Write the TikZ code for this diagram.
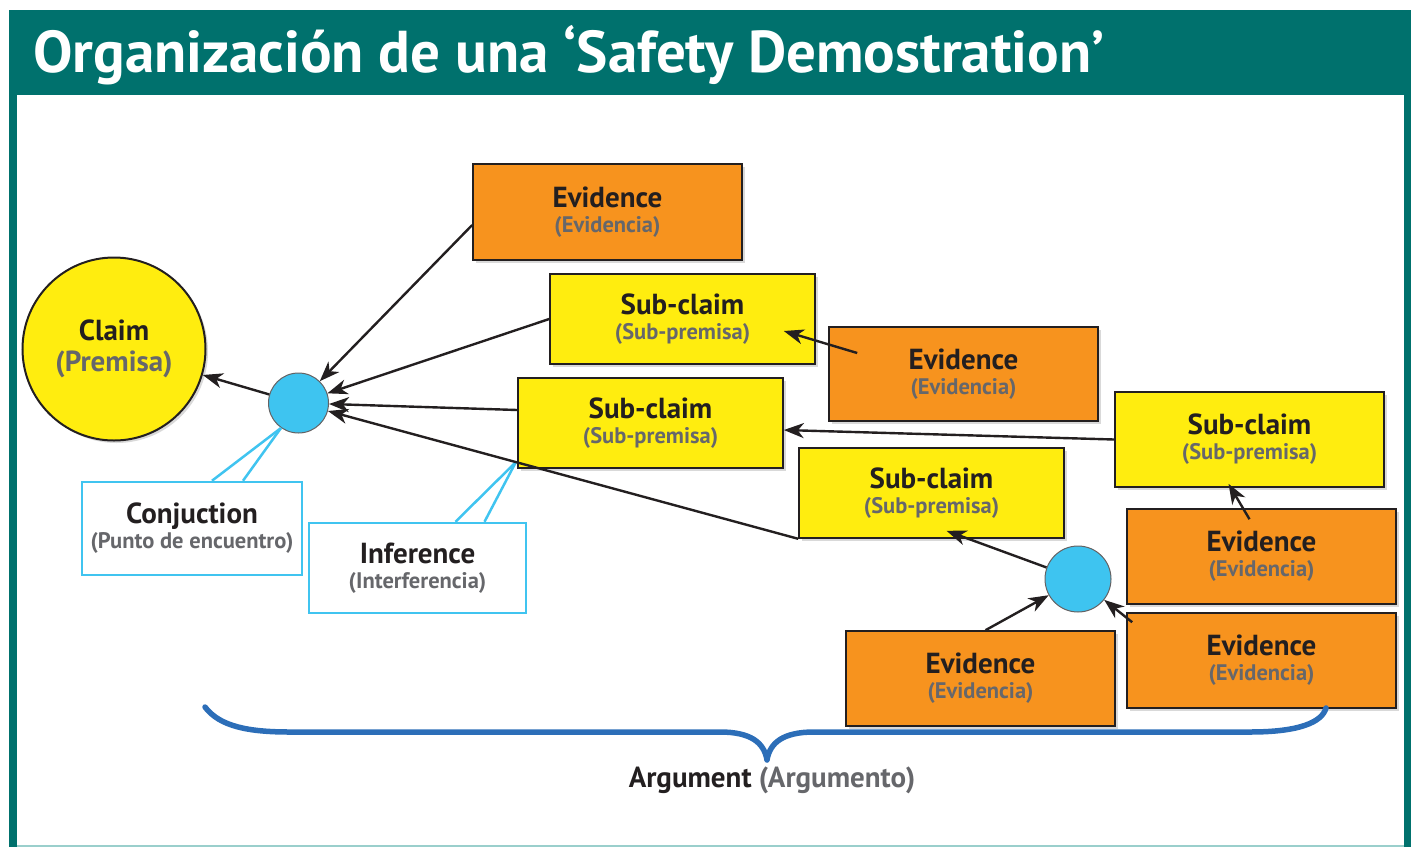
\documentclass[tikz,border=0pt]{standalone}
\usepackage{fontspec}
\setmainfont{PT Sans}
\usetikzlibrary{arrows.meta,shadows,calc}
\definecolor{hdteal}{HTML}{00716D}
\definecolor{hdlight}{HTML}{9ACFCC}
\definecolor{evorange}{HTML}{F7931E}
\definecolor{scyellow}{HTML}{FFED0F}
\definecolor{cjblue}{HTML}{3EC4F0}
\definecolor{calblue}{HTML}{40C4F0}
\definecolor{brblue}{HTML}{2C6EB8}
\definecolor{txdark}{HTML}{231F20}
\definecolor{txgray}{HTML}{66676B}
\newcommand\twolines[2]{{\fontsize{29}{25}\selectfont #1}\\{\color{txgray}#2}}
\begin{document}
\begin{tikzpicture}[x=1pt,y=-1pt,
  every node/.style={font=\fontsize{22.5}{25}\selectfont\bfseries, text=txdark, align=center},
  shd/.style={drop shadow={shadow xshift=2.5pt,shadow yshift=-2.5pt,opacity=0.25,fill=black!60}},
  evbox/.style={draw=txdark, line width=1.6pt, fill=evorange, minimum width=269pt, minimum height=95pt, inner sep=0pt, shd},
  scbox/.style={draw=txdark, line width=1.6pt, fill=scyellow, minimum width=265pt, minimum height=90pt, inner sep=0pt, shd},
  callbox/.style={draw=calblue, line width=2.5pt, fill=white, inner sep=0pt},
  conjdot/.style={circle, draw=txdark!70, line width=1pt, fill=cjblue, inner sep=0pt},
  arr/.style={draw=txdark, line width=2.4pt, -{Stealth[length=20pt,width=15pt,inset=6pt]}},
  ptr/.style={draw=calblue, line width=2.5pt},
]
\useasboundingbox (0,0) rectangle (1411,847);
% frame
\fill[hdteal] (9,10) rectangle (1411,95);
\fill[hdteal] (9,95) rectangle (17,847);
\fill[hdteal] (1404,95) rectangle (1411,847);
\fill[hdlight] (17,844.5) rectangle (1404,847);
\node[anchor=base west, font=\fontsize{59}{64}\selectfont\bfseries, text=white, inner sep=0pt] (title) at (33,72) {Organización de una ‘Safety Demostration’};

% claim and conjunction dots
\node[circle, draw=txdark, line width=2pt, fill=scyellow, minimum size=183pt, inner sep=0pt, shd, font=\fontsize{29}{31}\selectfont\bfseries] (claim) at (114,349) {Claim\\{\color{txgray}(Premisa)}};
\node[conjdot, minimum size=60pt] (c1) at (298.5,403) {};
\node[conjdot, minimum size=66pt] (c2) at (1078,579) {};

% boxes
\node[evbox, minimum height=96pt] (e1) at (607.5,212) {\twolines{Evidence}{(Evidencia)}};
\node[scbox] (sc1) at (682.5,319) {\twolines{Sub-claim}{(Sub-premisa)}};
\node[evbox, minimum height=94pt] (e2) at (963.5,374) {\twolines{Evidence}{(Evidencia)}};
\node[scbox] (sc2) at (650.5,423) {\twolines{Sub-claim}{(Sub-premisa)}};
\node[scbox, minimum width=269pt, minimum height=95pt] (sc3) at (1249.5,439.5) {\twolines{Sub-claim}{(Sub-premisa)}};
\node[scbox] (sc4) at (931.5,493) {\twolines{Sub-claim}{(Sub-premisa)}};
\node[evbox] (e3) at (1261.5,556.5) {\twolines{Evidence}{(Evidencia)}};
\node[evbox] (e5) at (1261.5,660.5) {\twolines{Evidence}{(Evidencia)}};
\node[evbox] (e4) at (980.5,678.5) {\twolines{Evidence}{(Evidencia)}};

% callouts
\node[callbox, minimum width=220pt, minimum height=93pt] (conjbox) at (192,528.5) {{\fontsize{29}{25}\selectfont Conjuction}\\{\color{txgray}(Punto de encuentro)}};
\node[callbox, minimum width=217pt, minimum height=90pt] (infbox) at (417.5,568) {{\fontsize{29}{25}\selectfont Inference}\\{\color{txgray}(Interferencia)}};

\coordinate (infpt) at ($(sc4.south west)!0.565!(c1)$);
\draw[ptr] ([xshift=20pt]conjbox.north) -- (c1.235);
\draw[ptr] ([xshift=51pt]conjbox.north) -- (c1.235);
\draw[ptr] ([xshift=38pt]infbox.north) -- (infpt);
\draw[ptr] ([xshift=67pt]infbox.north) -- (infpt);

% arrows
\draw[arr] (c1) -- (claim);
\draw[arr] ([yshift=-13pt]e1.west) -- (c1);
\draw[arr] (sc1.west) -- (c1);
\draw[arr] ([yshift=13pt]sc2.west) -- (c1);
\draw[arr] (sc4.south west) -- (c1);
\draw[arr] ([xshift=29pt,yshift=21pt]e2.west) -- ([xshift=-32pt,yshift=-12pt]sc1.east);
\draw[arr] (sc3.west) -- ([yshift=-7pt]sc2.east);
\draw[arr] ([xshift=-12pt,yshift=-11pt]e3.north) -- ([xshift=-21pt,yshift=4pt]sc3.south);
\draw[arr] (c2) -- ([xshift=15pt,yshift=8pt]sc4.south);
\draw[arr] ([xshift=5pt]e4.north) -- (c2);
\draw[arr] ([xshift=6pt,yshift=-10pt]e5.north west) -- (c2);

% brace
\draw[brblue, line width=5.5pt, line cap=round, line join=round]
  (205,707) .. controls (220,727) and (250,732) .. (290,732) -- (720,732)
  .. controls (750,732) and (764,742) .. (767,760)
  .. controls (770,742) and (784,732) .. (814,732) -- (1250,732)
  .. controls (1300,732) and (1322,722) .. (1326,708);
\node[anchor=base, font=\fontsize{29}{31}\selectfont\bfseries] (arg) at (772,787) {Argument {\color{txgray}(Argumento)}};
\end{tikzpicture}
\end{document}
